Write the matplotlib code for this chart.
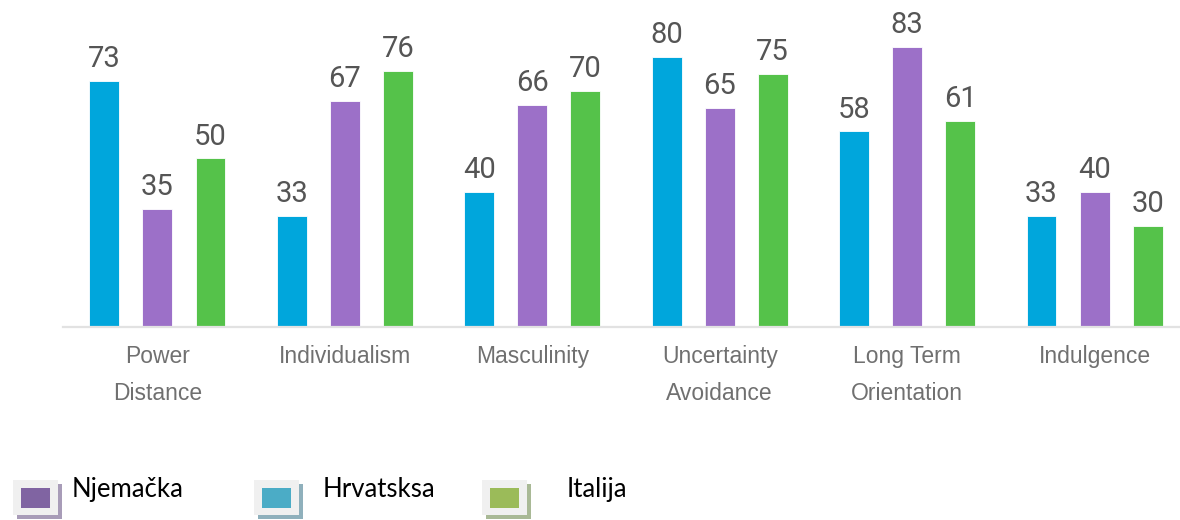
import numpy as np
import matplotlib.pyplot as plt
from matplotlib.patches import Rectangle

# ----------------- data -----------------
categories = ["Power\nDistance", "Individualism", "Masculinity",
              "Uncertainty\nAvoidance", "Long Term\nOrientation", "Indulgence"]
hrvatska = [73, 33, 40, 80, 58, 33]
njemacka = [35, 67, 66, 65, 83, 40]
italija = [50, 76, 70, 75, 61, 30]

bar_colors = {"Hrvatsksa": "#00a6dc", "Njemačka": "#9c70c8", "Italija": "#55c24a"}
legend_names = ["Njemačka", "Hrvatsksa", "Italija"]
legend_fill = ["#8064a2", "#4bacc6", "#9bbb59"]
legend_shadow = ["#a89cb8", "#8fb0bc", "#a9b996"]

W, H = 1180, 520
fig = plt.figure(figsize=(W / 100, H / 100), dpi=100)

# axes placed in pixel terms: baseline at y=327 px from top, left edge at 63 px
ax = fig.add_axes([63 / W, (H - 327) / H, (W - 63) / W, 327 / H])

x = np.arange(len(categories))
offset = 0.283
width = 0.16

series = [("Hrvatsksa", hrvatska, -offset),
          ("Njemačka", njemacka, 0.0),
          ("Italija", italija, offset)]

num_font = ["Roboto", "DejaVu Sans"]
for name, vals, dx in series:
    bars = ax.bar(x + dx, vals, width=width, color=bar_colors[name],
                  edgecolor="white", linewidth=0.6)
    for b, v in zip(bars, vals):
        ax.annotate(str(v), (b.get_x() + b.get_width() / 2, v),
                    xytext=(0, 10), textcoords="offset points",
                    ha="center", va="baseline", fontsize=21,
                    color="#555555", family=num_font)

ax.set_xlim(-0.504, 5.456)
ax.set_ylim(0, 97)
ax.set_xticks(x)
ax.set_xticklabels(categories, fontsize=16.5, color="#707070",
                   family=["Liberation Sans", "DejaVu Sans"], linespacing=1.75)
ax.tick_params(axis="x", length=0, pad=13)
ax.set_yticks([])
for s in ["top", "right", "left"]:
    ax.spines[s].set_visible(False)
ax.spines["bottom"].set_color("#e2e2e2")
ax.spines["bottom"].set_linewidth(1.6)
ax.patch.set_alpha(0)


# ----------------- legend (drawn by hand, pixel layout) -----------------
def px_rect(x0, y0, x1, y1, color):
    # pixel coords measured from the top-left corner
    return Rectangle((x0 / W, 1 - y1 / H), (x1 - x0) / W, (y1 - y0) / H,
                     transform=fig.transFigure, facecolor=color,
                     edgecolor="none")


box_left = [13, 254, 482]
text_left = [72, 323, 567]
for name, fill, shadow, bx, tx in zip(legend_names, legend_fill, legend_shadow,
                                      box_left, text_left):
    fig.add_artist(px_rect(bx + 4, 484, bx + 49, 519, shadow))
    fig.add_artist(px_rect(bx, 480, bx + 45, 515, "#f0f0f0"))
    fig.add_artist(px_rect(bx + 8, 488, bx + 37, 508, fill))
    fig.text(tx / W, 1 - 497 / H, name, fontsize=18.5, color="black",
             family=["Lato", "DejaVu Sans"], ha="left", va="baseline")

fig.savefig("out.png", dpi=100)
